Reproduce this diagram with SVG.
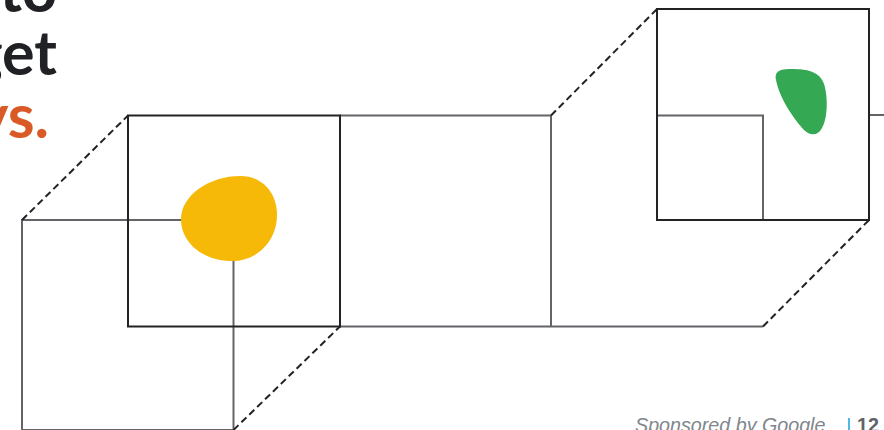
<svg xmlns="http://www.w3.org/2000/svg" width="884" height="430" viewBox="0 0 884 430">
<style>
.head{font-family:Lato,"Noto Sans",sans-serif;font-weight:700;font-size:61px}
.dark{fill:none;stroke:#232325;stroke-width:2}
.gray{fill:none;stroke:#626468;stroke-width:2}
.dash{fill:none;stroke:#232325;stroke-width:2;stroke-dasharray:7 4}
.foot{font-family:"Liberation Sans",Arial,sans-serif;font-size:19.7px}
</style>
<rect width="884" height="430" fill="#ffffff"/>
<g id="heading">
<text class="head" x="57" y="12" text-anchor="end" fill="#202124">to</text>
<text class="head" x="57" y="75" text-anchor="end" fill="#202124">get</text>
<text class="head" x="49" y="138" text-anchor="end" fill="#D95A27">ys.</text>
</g>
<g id="connectors">
<path class="gray" d="M22,430 V220 H182"/>
<path class="gray" d="M233.5,261 V430"/>
<path class="gray" d="M22,430 H234"/>
<path class="gray" d="M340,115.5 H551 V326.5"/>
<path class="gray" d="M340,326.5 H763"/>
<path class="gray" d="M657,115.5 H763 V220"/>
<path class="gray" d="M869,115 H884"/>
<path class="dash" d="M22,220 L128,115.5"/>
<path class="dash" d="M233.5,430 L340,326.5"/>
<path class="dash" d="M551,115.5 L657,9"/>
<path class="dash" d="M763,326.5 L869,220"/>
</g>
<g id="left-square">
<rect class="dark" x="128" y="115.5" width="212" height="211"/>
</g>
<g id="right-square">
<rect class="dark" x="657" y="9" width="212" height="211"/>
</g>
<g id="yellow-blob">
<path fill="#F6B908" d="M181,219 C181,195 210,176 240,176 C263,176 277,193 277,215 C277,240 258,261 232,261 C203,261 181,243 181,219 Z"/>
</g>
<g id="green-blob">
<path fill="#34A853" d="M776,80 C774,70 782,69 792,69 C808,69 820,72 824,84 C828,96 828,118 822,128 C818,136 810,136 804,130 C795,120 780,100 776,80 Z"/>
</g>
<g id="footer">
<text class="foot" x="635" y="432" font-style="italic" fill="#80868B">Sponsored by Google</text>
<line x1="849" y1="418" x2="849" y2="430" stroke="#4FB8E6" stroke-width="2"/>
<text class="foot" x="857" y="432" font-weight="700" fill="#5F6368">12</text>
</g>
</svg>
